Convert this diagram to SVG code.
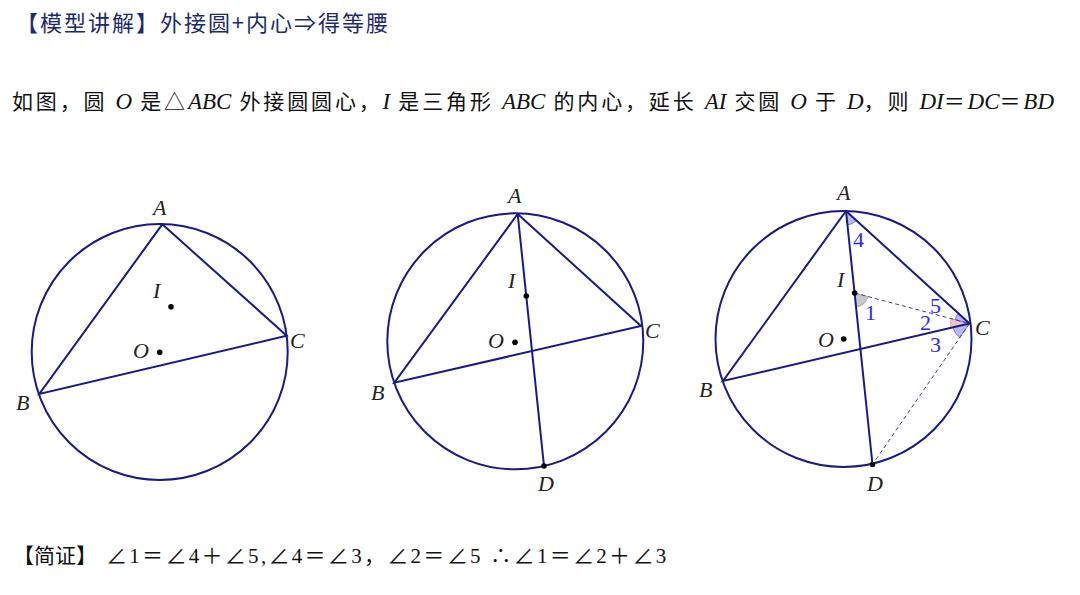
<svg xmlns="http://www.w3.org/2000/svg" width="1080" height="595" viewBox="0 0 1080 595">
<style>
.circ{fill:none;stroke:#1a1a84;stroke-width:2}
.ln{stroke:#1a1a84;stroke-width:2;fill:none;stroke-linecap:round}
.dash{stroke:#4040a0;stroke-width:1;stroke-dasharray:4 3;fill:none}
.pt{fill:#000}
.lbl{font-family:"Liberation Serif","Times New Roman",serif;font-style:italic;font-size:22px;fill:#222}
.num{font-family:"Liberation Serif","Times New Roman",serif;font-size:22px;fill:#2a2aee}
.cn{font-family:"Liberation Serif","Noto Sans CJK SC",serif;font-size:21px;fill:#111}
.it{font-style:italic;letter-spacing:0;font-size:23px}
.blue{fill:#8080ff;fill-opacity:0.55;stroke:#5a5aee;stroke-width:0.8}
.pink{fill:#e6a8a8;fill-opacity:0.7;stroke:#d08a8a;stroke-width:0.6}
.gray{fill:#c8c8c8;stroke:#999;stroke-width:0.8}
</style>
<rect width="1080" height="595" fill="#fff"/>

<g id="title">
<text x="16" y="31" font-family="Noto Sans CJK SC,sans-serif" font-size="22" fill="#1c2a6e" textLength="372" lengthAdjust="spacing">【模型讲解】外接圆+内心⇒得等腰</text>
</g>

<g id="statement">
<text class="cn" x="12" y="109" letter-spacing="2.85">如图，圆 <tspan class="it">O</tspan> 是△<tspan class="it">ABC</tspan> 外接圆圆心，<tspan class="it">I</tspan> 是三角形 <tspan class="it">ABC</tspan> 的内心，延长 <tspan class="it">AI</tspan> 交圆 <tspan class="it">O</tspan> 于 <tspan class="it">D</tspan>，则 <tspan class="it">DI</tspan>＝<tspan class="it">DC</tspan>＝<tspan class="it">BD</tspan></text>
</g>

<g id="figure1">
<circle class="circ" cx="159.7" cy="352" r="128"/>
<polygon class="ln" points="162.3,224.3 286.7,335.7 39.3,394"/>
<circle class="pt" cx="171" cy="306.7" r="2.8"/>
<circle class="pt" cx="159.7" cy="352.3" r="2.8"/>
<text class="lbl" x="153" y="215">A</text>
<text class="lbl" x="153" y="298">I</text>
<text class="lbl" x="133" y="358">O</text>
<text class="lbl" x="290" y="348">C</text>
<text class="lbl" x="16" y="410">B</text>
</g>

<g id="figure2">
<circle class="circ" cx="515.3" cy="341.3" r="128"/>
<polygon class="ln" points="517.7,214 641,326 394.3,382.7"/>
<line class="ln" x1="517.7" y1="214" x2="544" y2="466"/>
<circle class="pt" cx="526.3" cy="296" r="2.8"/>
<circle class="pt" cx="515" cy="342.3" r="2.8"/>
<circle class="pt" cx="544" cy="466" r="2.8"/>
<text class="lbl" x="508" y="203">A</text>
<text class="lbl" x="508" y="288">I</text>
<text class="lbl" x="488" y="348">O</text>
<text class="lbl" x="645" y="338">C</text>
<text class="lbl" x="371" y="400">B</text>
<text class="lbl" x="538" y="491">D</text>
</g>

<g id="figure3">
<path class="blue" d="M846,211 L856.35,220.43 A14,14 0 0 1 847.46,224.92 Z"/>
<path class="gray" d="M854.6,293 L868.13,296.59 A14,14 0 0 1 856.06,306.92 Z"/>
<path class="pink" d="M969.5,323.5 L950.99,327.82 A19,19 0 0 1 951.14,318.62 Z"/>
<path class="blue" d="M969.5,323.5 L955,319.65 A15,15 0 0 1 958.41,313.4 Z"/>
<path class="blue" d="M969.5,323.5 L959.86,337.51 A17,17 0 0 1 952.94,327.36 Z"/>
<circle class="circ" cx="843.5" cy="339" r="128"/>
<line class="dash" x1="854.6" y1="293" x2="969.5" y2="323.5"/>
<line class="dash" x1="969.5" y1="323.5" x2="872.5" y2="464.5"/>
<polygon class="ln" points="846,211 969.5,323.5 723,381"/>
<line class="ln" x1="846" y1="211" x2="872.5" y2="464.5"/>
<circle class="pt" cx="854.6" cy="293" r="2.8"/>
<circle class="pt" cx="843.7" cy="339" r="2.8"/>
<circle class="pt" cx="872.5" cy="464.5" r="2.8"/>
<text class="lbl" x="837" y="200">A</text>
<text class="lbl" x="837" y="287">I</text>
<text class="lbl" x="818" y="347">O</text>
<text class="lbl" x="975" y="335">C</text>
<text class="lbl" x="699" y="397">B</text>
<text class="lbl" x="867" y="491">D</text>
<text class="num" x="853" y="247">4</text>
<text class="num" x="865" y="320">1</text>
<text class="num" x="930" y="313">5</text>
<text class="num" x="920" y="330">2</text>
<text class="num" x="930" y="352">3</text>
</g>

<g id="proof">
<text class="cn" y="563" font-size="22"><tspan x="13" font-size="21">【简证】</tspan><tspan x="106" letter-spacing="2.3">∠1＝∠4＋∠5,∠4＝∠3，∠2＝∠5 ∴∠1＝∠2＋∠3</tspan></text>
</g>
</svg>
